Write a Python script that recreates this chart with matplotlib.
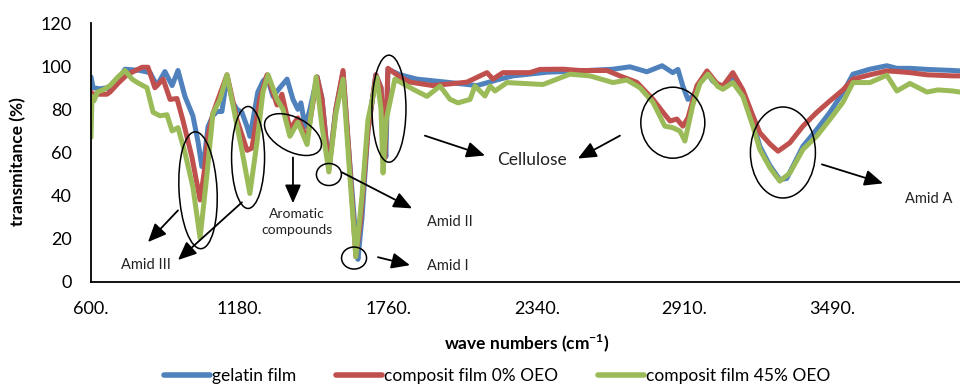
import matplotlib
matplotlib.use("Agg")
import matplotlib.pyplot as plt
from matplotlib.patches import Ellipse
from matplotlib.transforms import IdentityTransform

# ---------------- data ----------------
gelatin_w = [600, 608, 635, 662, 674, 705, 732, 791, 830, 857, 888, 916, 939, 966, 997, 1017, 1032, 1044,
             1056, 1075, 1091, 1110, 1130, 1153, 1169, 1188, 1208, 1219, 1231, 1250, 1270, 1286, 1309, 1336,
             1364, 1387, 1406, 1418, 1434, 1453, 1481, 1500, 1527, 1554, 1582, 1605, 1632, 1640, 1656, 1679,
             1710, 1730, 1741, 1749, 1757, 1804, 1870, 1999, 2104, 2193, 2244, 2377, 2505, 2634, 2700, 2766,
             2825, 2867, 2887, 2906, 2926, 2945, 2973, 3000, 3023, 3062, 3101, 3140, 3179, 3206, 3245, 3284,
             3311, 3374, 3428, 3479, 3530, 3569, 3635, 3701, 3740, 3791, 3857, 3958, 3986]
gelatin_t = [95, 90, 89.5, 90, 89, 92.5, 98.6, 98, 97, 91, 97.5, 91, 98, 86, 77, 65, 53.5, 60,
             72, 77, 79, 79, 95, 83, 80, 78.6, 72, 67.5, 75, 88, 93, 95, 86, 90,
             94, 84.6, 80, 83, 72, 80, 95, 85, 53, 80, 97, 60, 20, 10.5, 30, 70,
             96, 90, 70, 58, 98.6, 96, 94, 92.4, 91, 94, 95.5, 97.2, 97.8, 98.6, 99.7, 97.4,
             100.2, 97, 98.5, 90.8, 84.6, 86, 92.5, 97, 93, 90, 95.5, 88, 74, 62.9, 54, 47.4,
             48, 62.9, 70.7, 78.6, 87.8, 96.3, 98.6, 100.2, 99, 99, 98.5, 98, 97.8]

comp0_w = [600, 608, 635, 662, 674, 705, 740, 799, 822, 849, 881, 908, 935, 958, 993, 1025, 1040, 1056,
           1075, 1095, 1130, 1169, 1208, 1227, 1258, 1286, 1325, 1344, 1375, 1406, 1442, 1481, 1500, 1527,
           1554, 1582, 1605, 1632, 1650, 1679, 1710, 1730, 1745, 1757, 1804, 1843, 1932, 2065, 2116, 2143,
           2166, 2205, 2310, 2349, 2439, 2505, 2610, 2661, 2727, 2790, 2829, 2856, 2883, 2906, 2926, 2961,
           3000, 3039, 3062, 3101, 3140, 3179, 3206, 3245, 3277, 3323, 3374, 3428, 3479, 3530, 3569, 3635,
           3701, 3740, 3791, 3857, 3958, 3986]
comp0_t = [88, 87, 87, 87, 88, 92, 96, 99.5, 99.5, 90, 94, 84.6, 85, 75, 58, 38, 50, 68,
           78, 84.6, 96, 75, 61, 62, 85, 96, 82, 87, 71, 76, 66, 95, 85, 52,
           80, 98, 60, 11.7, 28, 70, 96, 90, 57.6, 99, 95, 92.6, 91, 92.6, 95.5, 97,
           94, 97, 97, 98.5, 98.6, 98, 98, 95.5, 92.5, 84.6, 78.6, 74.6, 75.5, 72.2, 76, 91,
           97.8, 92, 90.8, 97, 89, 77, 69.2, 64, 60.6, 64.5, 72.2, 78.6, 83.9, 89, 94, 96,
           97.8, 97.5, 97, 96, 95.5, 95.5]

comp45_w = [600, 604, 612, 625, 647, 674, 705, 732, 760, 779, 818, 842, 869, 896, 916, 939, 966, 997,
            1025, 1052, 1075, 1103, 1130, 1153, 1188, 1219, 1247, 1270, 1290, 1325, 1348, 1375, 1406, 1442,
            1477, 1500, 1527, 1554, 1582, 1605, 1632, 1656, 1679, 1714, 1730, 1738, 1750, 1784, 1855, 1909,
            1960, 1999, 2030, 2077, 2096, 2135, 2155, 2174, 2221, 2283, 2361, 2416, 2466, 2544, 2634, 2688,
            2739, 2790, 2836, 2867, 2895, 2914, 2945, 2973, 3004, 3043, 3062, 3101, 3140, 3179, 3206, 3245,
            3284, 3323, 3374, 3428, 3479, 3530, 3569, 3635, 3701, 3740, 3791, 3857, 3900, 3958, 3986]
comp45_t = [67, 86, 84, 88, 89, 91, 95, 98, 94, 92.5, 90, 78.6, 77, 77.5, 70, 71.5, 60, 44,
            20.4, 50, 78, 84.6, 96, 82, 61, 41, 65, 88, 96, 84.6, 80, 67.5, 74, 63.7,
            95, 72, 51, 78, 94, 55, 11.7, 40, 75, 94.8, 80, 50.5, 75, 94, 89.3, 86,
            90.8, 84.6, 83, 84.6, 90.8, 86.2, 90.8, 88.5, 92.4, 92, 91.5, 94, 96.3, 95.5, 92.4, 93.6,
            90, 83.2, 72.2, 71.5, 69.9, 65.3, 82, 92, 96.3, 90.5, 89.3, 92.4, 86, 72.2, 61.4, 53,
            46.7, 50.5, 61.4, 67.6, 75.3, 83.3, 92.4, 92.4, 95.8, 88.5, 92, 88, 89, 88.5, 88]

series_labels = ["gelatin film", "composit film 0% OEO", "composit film 45% OEO"]
x_ticks = [600, 1180, 1760, 2340, 2910, 3490]
x_tick_labels = ["600.", "1180.", "1760.", "2340.", "2910.", "3490."]
y_ticks = [0, 20, 40, 60, 80, 100, 120]

# ---------------- figure ----------------
W, H = 960, 384
fig = plt.figure(figsize=(W / 100, H / 100), dpi=100)
ax = fig.add_axes([91 / W, (H - 282) / H, 1 - 91 / W, (282 - 23) / H])

main_font = ["Lato", "DejaVu Sans"]

colors = ["#4F81BD", "#C0504D", "#9BBB59"]
lines = []
for wx, ty, c, lab in zip([gelatin_w, comp0_w, comp45_w], [gelatin_t, comp0_t, comp45_t], colors, series_labels):
    ln, = ax.plot(wx, ty, color=c, lw=3.6, solid_joinstyle="round", solid_capstyle="round", label=lab)
    lines.append(ln)

ax.set_xlim(600, 3986)
ax.set_ylim(0, 120)
for s in ["top", "right"]:
    ax.spines[s].set_visible(False)
for s in ["left", "bottom"]:
    ax.spines[s].set_linewidth(1.3)
    ax.spines[s].set_color("black")
ax.set_xticks(x_ticks)
ax.set_xticklabels(x_tick_labels, family=main_font, fontsize=13)
ax.set_yticks(y_ticks)
ax.set_yticklabels([str(v) for v in y_ticks], family=main_font, fontsize=13)
ax.tick_params(axis="both", length=0)
ax.tick_params(axis="x", pad=14)
ax.tick_params(axis="y", pad=14)

fig.text(18 / W, 1 - 162 / H, "transmitance (%)", rotation=90, ha="center", va="center",
         family=main_font, fontsize=12.5, fontweight="bold")
fig.text(527 / W, 1 - 343 / H, "wave numbers (cm$^{\\mathregular{-1}}$)", ha="center", va="center",
         family=main_font, fontsize=12.5, fontweight="bold")

leg = fig.legend(handles=lines, loc="center", bbox_to_anchor=(497 / W, 1 - 376 / H), ncol=3,
                 frameon=False, handlelength=2.65, handletextpad=0.1, columnspacing=2.3,
                 prop={"family": main_font, "size": 12.5})
for h in leg.legend_handles:
    h.set_linewidth(4)

fig.canvas.draw()

# ---------------- annotations ----------------
ellipses = [  # (wave number, value, width px, height px, angle)
    (1017, 42.5, 38, 117, 3),
    (1212, 57.7, 33, 102, 0),
    (1387, 68.3, 62, 34, -28),
    (1527, 49.8, 25, 22, 0),
    (1625, 11.1, 25, 22, 0),
    (1761, 80.3, 34, 107, 0),
    (2867, 73.8, 64, 71, 0),
    (3296, 60.0, 65, 91, 0),
]
for w, v, ew, eh, ang in ellipses:
    cx, cy = ax.transData.transform((w, v))
    e = Ellipse((cx, cy), ew, eh, angle=ang, transform=IdentityTransform(),
                fill=False, ec="black", lw=1.1, zorder=5)
    fig.patches.append(e)
    e.set_figure(fig)

arrows = [  # tail -> head
    ((939, 33.2), (822, 18.5)),
    ((1188, 36.9), (939, 10.2)),
    ((1387, 57.7), (1387, 36.5)),
    ((1578, 50.8), (1851, 34.1)),
    ((1718, 11.5), (1843, 7.8)),
    ((1901, 67.8), (2135, 58.6)),
    ((2661, 67.8), (2497, 57.2)),
    ((3448, 54.5), (3686, 45.7)),
]
for tail, head in arrows:
    ax.annotate("", xy=head, xytext=tail,
                arrowprops=dict(arrowstyle="-|>,head_length=0.8,head_width=0.35", color="black",
                                lw=1.3, shrinkA=0, shrinkB=0, mutation_scale=14),
                annotation_clip=False)

txt = dict(family=main_font, color="#222222", va="center")
ax.text(814, 7.8, "Amid III", ha="center", fontsize=10.5, **txt)
ax.text(1403, 27.7, "Aromatic\ncompounds", ha="center", fontsize=10, linespacing=1.35, **txt)
ax.text(1909, 27.7, "Amid II", ha="left", fontsize=10.5, **txt)
ax.text(1909, 7.4, "Amid I", ha="left", fontsize=10.5, **txt)
ax.text(2318, 56.3, "Cellulose", ha="center", fontsize=12.5, **txt)
ax.text(3865, 38.3, "Amid A", ha="center", fontsize=10.5, **txt)

fig.savefig("out.png", dpi=100)
